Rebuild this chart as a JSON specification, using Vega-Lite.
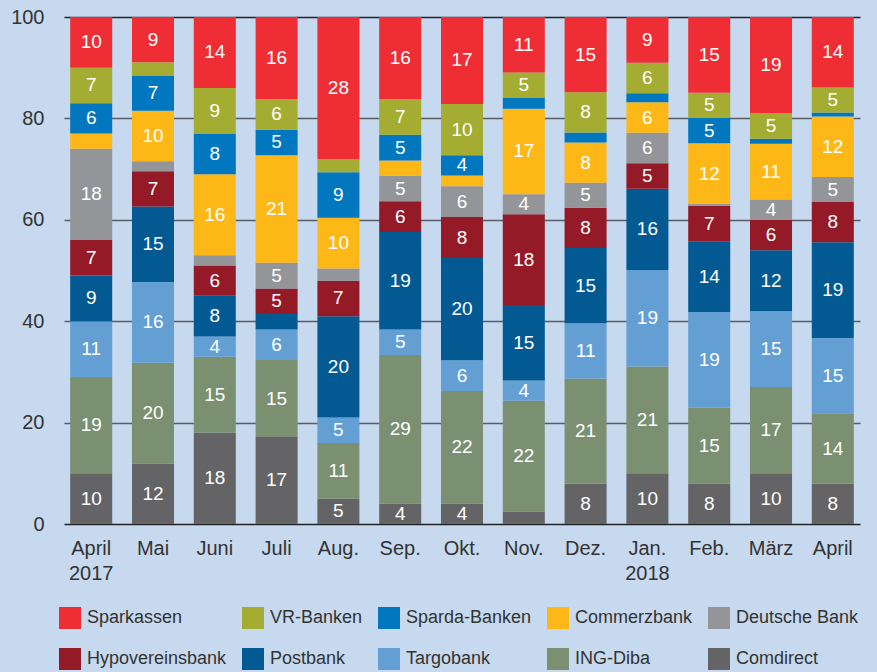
{
  "$schema": "https://vega.github.io/schema/vega-lite/v6.json",
  "width": 796,
  "height": 507,
  "autosize": {"type": "none"},
  "padding": {"top": 17, "left": 64, "right": 17, "bottom": 148},
  "background": "#C6D9EF",
  "config": {
    "view": {"stroke": null},
    "font": "Liberation Sans"
  },
  "data": {
    "values": [
      {"month": "April 2017", "Comdirect": 10, "ING-Diba": 19, "Targobank": 11, "Postbank": 9, "Hypovereinsbank": 7, "Deutsche Bank": 18, "Commerzbank": 3, "Sparda-Banken": 6, "VR-Banken": 7, "Sparkassen": 10},
      {"month": "Mai", "Comdirect": 12, "ING-Diba": 20, "Targobank": 16, "Postbank": 15, "Hypovereinsbank": 7, "Deutsche Bank": 2, "Commerzbank": 10, "Sparda-Banken": 7, "VR-Banken": 2.6, "Sparkassen": 9},
      {"month": "Juni", "Comdirect": 18, "ING-Diba": 15, "Targobank": 4, "Postbank": 8, "Hypovereinsbank": 6, "Deutsche Bank": 2, "Commerzbank": 16, "Sparda-Banken": 8, "VR-Banken": 9, "Sparkassen": 14},
      {"month": "Juli", "Comdirect": 17, "ING-Diba": 15, "Targobank": 6, "Postbank": 3, "Hypovereinsbank": 5, "Deutsche Bank": 5, "Commerzbank": 21, "Sparda-Banken": 5, "VR-Banken": 6, "Sparkassen": 16},
      {"month": "Aug.", "Comdirect": 5, "ING-Diba": 11, "Targobank": 5, "Postbank": 20, "Hypovereinsbank": 7, "Deutsche Bank": 2.4, "Commerzbank": 10, "Sparda-Banken": 9, "VR-Banken": 2.6, "Sparkassen": 28},
      {"month": "Sep.", "Comdirect": 4, "ING-Diba": 29, "Targobank": 5, "Postbank": 19, "Hypovereinsbank": 6, "Deutsche Bank": 5, "Commerzbank": 3, "Sparda-Banken": 5, "VR-Banken": 7, "Sparkassen": 16},
      {"month": "Okt.", "Comdirect": 4, "ING-Diba": 22, "Targobank": 6, "Postbank": 20, "Hypovereinsbank": 8, "Deutsche Bank": 6, "Commerzbank": 2.1, "Sparda-Banken": 4, "VR-Banken": 10, "Sparkassen": 17},
      {"month": "Nov.", "Comdirect": 2.5, "ING-Diba": 22, "Targobank": 4, "Postbank": 15, "Hypovereinsbank": 18, "Deutsche Bank": 4, "Commerzbank": 17, "Sparda-Banken": 2.2, "VR-Banken": 5, "Sparkassen": 11},
      {"month": "Dez.", "Comdirect": 8, "ING-Diba": 21, "Targobank": 11, "Postbank": 15, "Hypovereinsbank": 8, "Deutsche Bank": 5, "Commerzbank": 8, "Sparda-Banken": 2, "VR-Banken": 8, "Sparkassen": 15},
      {"month": "Jan. 2018", "Comdirect": 10, "ING-Diba": 21, "Targobank": 19, "Postbank": 16, "Hypovereinsbank": 5, "Deutsche Bank": 6, "Commerzbank": 6, "Sparda-Banken": 1.8, "VR-Banken": 6, "Sparkassen": 9},
      {"month": "Feb.", "Comdirect": 8, "ING-Diba": 15, "Targobank": 19, "Postbank": 14, "Hypovereinsbank": 7, "Deutsche Bank": 0.4, "Commerzbank": 12, "Sparda-Banken": 5, "VR-Banken": 5, "Sparkassen": 15},
      {"month": "März", "Comdirect": 10, "ING-Diba": 17, "Targobank": 15, "Postbank": 12, "Hypovereinsbank": 6, "Deutsche Bank": 4, "Commerzbank": 11, "Sparda-Banken": 1, "VR-Banken": 5, "Sparkassen": 19},
      {"month": "April 2018", "Comdirect": 8, "ING-Diba": 14, "Targobank": 15, "Postbank": 19, "Hypovereinsbank": 8, "Deutsche Bank": 5, "Commerzbank": 12, "Sparda-Banken": 0.8, "VR-Banken": 5, "Sparkassen": 14}
    ]
  },
  "transform": [
    {"fold": ["Comdirect", "ING-Diba", "Targobank", "Postbank", "Hypovereinsbank", "Deutsche Bank", "Commerzbank", "Sparda-Banken", "VR-Banken", "Sparkassen"], "as": ["bank", "share"]},
    {"stack": "share", "groupby": ["month"], "offset": "normalize", "as": ["s0", "s1"]}
  ],
  "encoding": {
    "x": {
      "field": "month",
      "type": "nominal",
      "sort": null,
      "scale": {"paddingInner": 0.32, "paddingOuter": 0.1},
      "axis": {
        "title": null,
        "labelAngle": 0,
        "ticks": false,
        "domain": false,
        "labelFontSize": 20,
        "labelColor": "#333333",
        "labelPadding": 14,
        "labelBaseline": "top",
        "labelLineHeight": 25,
        "labelExpr": "datum.label == 'April 2017' ? ['April', '2017'] : datum.label == 'Jan. 2018' ? ['Jan.', '2018'] : datum.label == 'April 2018' ? 'April' : datum.label"
      }
    }
  },
  "layer": [
    {
      "mark": {"type": "bar"},
      "encoding": {
        "y": {
          "field": "s0",
          "type": "quantitative",
          "scale": {"domain": [0, 1], "nice": false},
          "axis": {
            "title": null,
            "values": [0, 0.2, 0.4, 0.6, 0.8, 1],
            "labelExpr": "round(datum.value * 100)",
            "ticks": false,
            "domain": false,
            "labelFontSize": 20,
            "labelColor": "#333333",
            "labelPadding": 20,
            "gridWidth": 1.5,
            "gridColor": {"condition": {"test": "datum.value === 0 || datum.value === 1", "value": "#222222"}, "value": "#5a5d63"}
          }
        },
        "y2": {"field": "s1"},
        "color": {
          "field": "bank",
          "type": "nominal",
          "scale": {
            "domain": ["Sparkassen", "VR-Banken", "Sparda-Banken", "Commerzbank", "Deutsche Bank", "Hypovereinsbank", "Postbank", "Targobank", "ING-Diba", "Comdirect"],
            "range": ["#EE2E34", "#A4AD31", "#0077BF", "#FDB817", "#939598", "#951A27", "#035A93", "#649FD4", "#7A9071", "#646466"]
          },
          "legend": {
            "title": null,
            "orient": "none",
            "legendX": -5,
            "legendY": 590,
            "direction": "horizontal",
            "columns": 5,
            "columnPadding": 15,
            "rowPadding": 19,
            "padding": 0,
            "symbolType": "square",
            "symbolSize": 484,
            "symbolStrokeWidth": 0,
            "symbolOpacity": 1,
            "labelFontSize": 18,
            "labelColor": "#333333",
            "labelOffset": 6,
            "labelLimit": 300
          }
        }
      }
    },
    {
      "transform": [
        {"filter": "datum.share >= 3.5"},
        {"calculate": "(datum.s0 + datum.s1) / 2", "as": "mid"}
      ],
      "mark": {"type": "text", "color": "white", "fontSize": 19, "baseline": "middle", "align": "center"},
      "encoding": {
        "y": {"field": "mid", "type": "quantitative"},
        "text": {"field": "share", "type": "quantitative", "format": ".0f"}
      }
    }
  ]
}
